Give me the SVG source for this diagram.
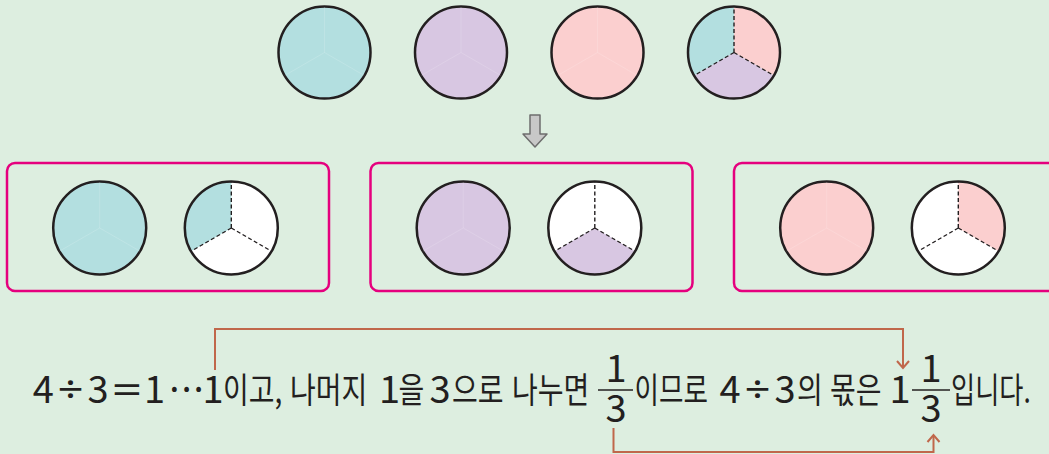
<svg xmlns="http://www.w3.org/2000/svg" width="1049" height="454" viewBox="0 0 1049 454">
<defs>
<style>
.bg{fill:#ddeee0}
.c{stroke:#231f20;stroke-width:2.5}
.cy{fill:#b3dfe0}.pu{fill:#d8c7e2}.pk{fill:#fbcfcf}.wh{fill:#ffffff}
.faint{stroke:#ffffff;stroke-opacity:0.15;stroke-width:1;fill:none}
.dash{stroke:#231f20;stroke-width:1.4;stroke-dasharray:4 2.5;fill:none}
.box{fill:none;stroke:#e5007e;stroke-width:2.5}
.t{font-family:"Noto Sans CJK KR","Noto Sans",sans-serif;font-size:35px;fill:#231f20}
.d{font-family:"Noto Sans CJK KR","Noto Sans",sans-serif;font-size:38px;fill:#231f20;text-anchor:middle}
.s{font-family:"Noto Sans","DejaVu Sans",sans-serif;font-size:38px;fill:#231f20;text-anchor:middle}
.br{fill:none;stroke:#c0674b;stroke-width:2}
.bar{stroke:#231f20;stroke-width:1.6}
</style>
</defs>
<rect class="bg" x="0" y="0" width="1049" height="454"/>

<g id="top-circles">
<g id="top-c1"><circle class="c cy" cx="324.5" cy="52.5" r="46"/><path class="faint" d="M324.5 52.5V7M324.5 52.5L284.7 75.5M324.5 52.5L364.3 75.5"/></g>
<g id="top-c2"><circle class="c pu" cx="461" cy="52.5" r="46"/><path class="faint" d="M461 52.5V7M461 52.5L421.2 75.5M461 52.5L500.8 75.5"/></g>
<g id="top-c3"><circle class="c pk" cx="597.5" cy="52.5" r="46"/><path class="faint" d="M597.5 52.5V7M597.5 52.5L557.7 75.5M597.5 52.5L637.3 75.5"/></g>
<g id="top-c4">
<path class="cy" d="M734 52.5L734 6.5A46 46 0 0 0 694.2 75.5Z"/>
<path class="pk" d="M734 52.5L734 6.5A46 46 0 0 1 773.8 75.5Z"/>
<path class="pu" d="M734 52.5L694.2 75.5A46 46 0 0 0 773.8 75.5Z"/>
<path class="dash" d="M734 52.5V6.5M734 52.5L694.2 75.5M734 52.5L773.8 75.5"/>
<circle class="c" cx="734" cy="52.5" r="46" fill="none"/>
</g>
</g>

<g id="down-arrow">
<path d="M530 115H540V134H547L535 147L523 134H530Z" fill="#c8c8c8" stroke="#6d6d6d" stroke-width="1.5" stroke-linejoin="round"/>
</g>

<g id="box1">
<rect class="box" x="7" y="163" width="322" height="128" rx="8"/>
<circle class="c cy" cx="99.7" cy="228" r="46.5"/><path class="faint" d="M99.7 228V182M99.7 228L59.4 251.2M99.7 228L140 251.2"/>
<circle class="wh" cx="231.3" cy="228" r="46.5"/>
<path class="cy" d="M231.3 228L231.3 181.5A46.5 46.5 0 0 0 191 251.25Z"/>
<path class="dash" d="M231.3 228V181.5M231.3 228L191 251.25M231.3 228L271.6 251.25"/>
<circle class="c" cx="231.3" cy="228" r="46.5" fill="none"/>
</g>

<g id="box2">
<rect class="box" x="370.5" y="163" width="322" height="128" rx="8"/>
<circle class="c pu" cx="463.2" cy="228" r="46.5"/><path class="faint" d="M463.2 228V182M463.2 228L422.9 251.2M463.2 228L503.5 251.2"/>
<circle class="wh" cx="594.8" cy="228" r="46.5"/>
<path class="pu" d="M594.8 228L554.5 251.25A46.5 46.5 0 0 0 635.1 251.25Z"/>
<path class="dash" d="M594.8 228V181.5M594.8 228L554.5 251.25M594.8 228L635.1 251.25"/>
<circle class="c" cx="594.8" cy="228" r="46.5" fill="none"/>
</g>

<g id="box3">
<rect class="box" x="734" y="163" width="322" height="128" rx="8"/>
<circle class="c pk" cx="826.7" cy="228" r="46.5"/><path class="faint" d="M826.7 228V182M826.7 228L786.4 251.2M826.7 228L867 251.2"/>
<circle class="wh" cx="958.3" cy="228" r="46.5"/>
<path class="pk" d="M958.3 228L958.3 181.5A46.5 46.5 0 0 1 998.6 251.25Z"/>
<path class="dash" d="M958.3 228V181.5M958.3 228L918 251.25M958.3 228L998.6 251.25"/>
<circle class="c" cx="958.3" cy="228" r="46.5" fill="none"/>
</g>

<g id="connectors">
<path class="br" d="M215 370V329H903V367"/>
<path class="br" d="M897 361L903 368L909 361"/>
<path class="br" d="M613.5 428V452H933.5V436"/>
<path class="br" d="M927.5 442L933.5 435L939.5 442"/>
</g>

<g id="sentence">
<text class="d" x="43.3" y="402.5">4</text>
<text class="s" transform="translate(70.5 402.5) scale(1.2 1)">÷</text>
<text class="d" x="98" y="402.5">3</text>
<text class="s" transform="translate(127 402.5) scale(1.4 1)">=</text>
<text class="d" x="154.5" y="402.5">1</text>
<text class="s" x="187.5" y="402.5" letter-spacing="2">···</text>
<text class="d" x="213" y="402.5">1</text>
<text class="t" transform="translate(223 402.5) scale(0.8 1)">이고,</text>
<text class="t" transform="translate(290 402.5) scale(0.8 1)">나머지</text>
<text class="d" x="389.5" y="402.5">1</text>
<text class="t" transform="translate(398.5 402.5) scale(0.8 1)">을</text>
<text class="d" x="440" y="402.5">3</text>
<text class="t" transform="translate(452 402.5) scale(0.8 1)">으로</text>
<text class="t" transform="translate(512 402.5) scale(0.8 1)">나누면</text>
<text class="d" x="616" y="382">1</text>
<line class="bar" x1="598" y1="390" x2="633" y2="390"/>
<text class="d" x="616" y="422">3</text>
<text class="t" transform="translate(634.5 402.5) scale(0.76 1)">이므로</text>
<text class="d" x="730" y="402.5">4</text>
<text class="s" transform="translate(757.5 402.5) scale(1.2 1)">÷</text>
<text class="d" x="785" y="402.5">3</text>
<text class="t" transform="translate(797 402.5) scale(0.8 1)">의</text>
<text class="t" transform="translate(830 402.5) scale(0.8 1)">몫은</text>
<text class="d" x="900" y="402.5">1</text>
<text class="d" x="931" y="382">1</text>
<line class="bar" x1="912" y1="390" x2="950" y2="390"/>
<text class="d" x="931" y="422">3</text>
<text class="t" transform="translate(951 402.5) scale(0.75 1)">입니다.</text>
</g>
</svg>
